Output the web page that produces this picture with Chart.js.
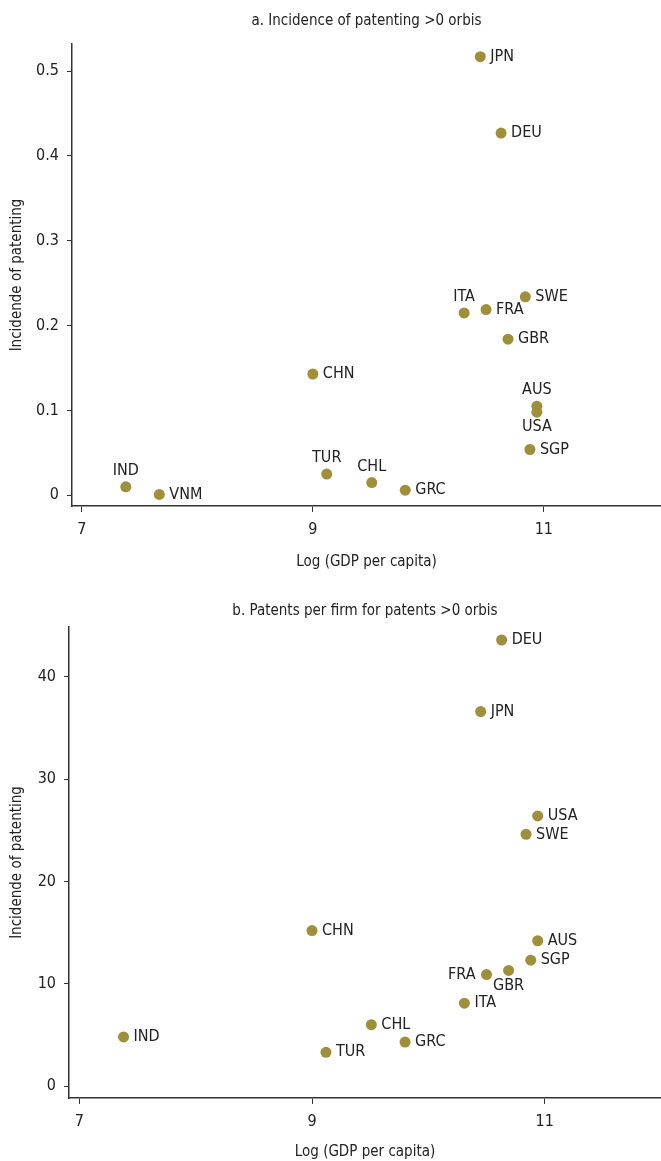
<!DOCTYPE html>
<html>
<head>
<meta charset="utf-8">
<script src="https://cdn.jsdelivr.net/npm/chart.js@4.4.1/dist/chart.umd.min.js"></script>
<style>
  html, body { margin: 0; padding: 0; background: #fff; overflow: hidden; }
  .panel { position: relative; width: 661px; }
  #panelA { height: 580px; }
  #panelB { height: 581px; }
</style>
</head>
<body>
<div class="panel" id="panelA"><canvas id="chartA"></canvas></div>
<div class="panel" id="panelB"><canvas id="chartB"></canvas></div>
<script>
// 국가 / 데이터
const countries = ['IND', 'VNM', 'CHN', 'TUR', 'CHL', 'GRC', 'ITA', 'FRA', 'JPN', 'DEU', 'GBR', 'SWE', 'SGP', 'AUS', 'USA'];
const logGdp = [7.38, 7.67, 9.00, 9.12, 9.51, 9.80, 10.31, 10.50, 10.45, 10.63, 10.69, 10.84, 10.88, 10.94, 10.94];
const incidence = [0.010, 0.001, 0.143, 0.025, 0.015, 0.006, 0.215, 0.219, 0.517, 0.427, 0.184, 0.234, 0.054, 0.105, 0.098];
const patentsPerFirm = [4.8, null, 15.2, 3.3, 6.0, 4.3, 8.1, 10.9, 36.6, 43.6, 11.3, 24.6, 12.3, 14.2, 26.4];
const xTicks = [7, 9, 11];
const yTicksA = [0, 0.1, 0.2, 0.3, 0.4, 0.5];
const yTicksB = [0, 10, 20, 30, 40];

const FONT = "'Liberation Sans Narrow', 'DejaVu Sans Condensed', Roboto, sans-serif";
const TEXT = '#222';
const DOT = '#a08f3a';

Chart.defaults.font.family = FONT;
Chart.defaults.color = TEXT;

// 패널 제목 (플롯 영역 가운데)
const panelTitle = {
  id: 'panelTitle',
  afterDraw(chart, args, opts) {
    const { ctx, chartArea } = chart;
    ctx.save();
    ctx.font = `15px ${FONT}`;
    ctx.fillStyle = TEXT;
    ctx.textAlign = 'center';
    ctx.textBaseline = 'middle';
    ctx.fillText(opts.text, (chartArea.left + chartArea.right) / 2, opts.y);
    ctx.restore();
  }
};

// 점 옆 국가 라벨
const pointLabels = {
  id: 'pointLabels',
  afterDatasetsDraw(chart, args, opts) {
    const { ctx } = chart;
    const data = chart.data.datasets[0].data;
    ctx.save();
    ctx.font = `16px ${FONT}`;
    ctx.fillStyle = TEXT;
    ctx.textBaseline = 'middle';
    chart.getDatasetMeta(0).data.forEach((pt, i) => {
      const name = data[i].label;
      const pos = opts.positions[name] || 'right';
      if (pos === 'right') { ctx.textAlign = 'left'; ctx.fillText(name, pt.x + 10, pt.y); }
      else if (pos === 'left') { ctx.textAlign = 'right'; ctx.fillText(name, pt.x - 11, pt.y); }
      else if (pos === 'above') { ctx.textAlign = 'center'; ctx.fillText(name, pt.x, pt.y - 16); }
      else { ctx.textAlign = 'center'; ctx.fillText(name, pt.x, pt.y + 15); }
    });
    ctx.restore();
  }
};

function scatterPoints(values) {
  return countries
    .map((c, i) => ({ x: logGdp[i], y: values[i], label: c }))
    .filter(p => p.y !== null);
}

function makeChart(id, values, yTicks, cfg) {
  return new Chart(document.getElementById(id), {
    type: 'scatter',
    data: {
      datasets: [{
        data: scatterPoints(values),
        backgroundColor: DOT,
        borderWidth: 0,
        pointRadius: 5.5,
        pointHoverRadius: 5.5,
        clip: false
      }]
    },
    options: {
      responsive: true,
      maintainAspectRatio: false,
      animation: false,
      layout: { autoPadding: false, padding: { top: cfg.top, left: 0, right: 0, bottom: 0 } },
      plugins: {
        legend: { display: false },
        tooltip: { enabled: false },
        panelTitle: { text: cfg.title, y: cfg.titleY },
        pointLabels: { positions: cfg.positions }
      },
      scales: {
        x: {
          type: 'linear',
          min: cfg.xMin,
          max: cfg.xMax,
          afterBuildTicks: s => { s.ticks = xTicks.map(v => ({ value: v })); },
          afterFit: s => { s.height = cfg.xHeight; s.paddingLeft = 0; s.paddingRight = 0; },
          grid: { drawOnChartArea: false, tickLength: 6, color: '#333' },
          border: { color: '#333', width: 1.5 },
          ticks: { padding: 8, font: { size: 16 }, color: TEXT },
          title: { display: true, text: 'Log (GDP per capita)', font: { size: 15 }, padding: { bottom: cfg.xTitlePad }, color: TEXT }
        },
        y: {
          type: 'linear',
          min: cfg.yMin,
          max: cfg.yMax,
          afterBuildTicks: s => { s.ticks = yTicks.map(v => ({ value: v })); },
          afterFit: s => { s.width = cfg.yWidth; },
          grid: { drawOnChartArea: false, tickLength: 5, color: '#333' },
          border: { color: '#333', width: 1.5 },
          ticks: { padding: 8, font: { size: 16 }, color: TEXT },
          title: { display: true, text: 'Incidende of patenting', font: { size: 15 }, padding: { top: 8 }, color: TEXT }
        }
      }
    },
    plugins: [panelTitle, pointLabels]
  });
}

// a. 특허 발생률
makeChart('chartA', incidence, yTicksA, {
  title: 'a. Incidence of patenting >0 orbis',
  titleY: 21,
  top: 44,
  yWidth: 72,
  xHeight: 74,
  xTitlePad: 9,
  xMin: 6.914, xMax: 12.015,
  yMin: -0.0126, yMax: 0.532,
  positions: { ITA: 'above', AUS: 'above', USA: 'below', IND: 'above', TUR: 'above', CHL: 'above' }
});

// b. 기업당 특허 수
makeChart('chartB', patentsPerFirm, yTicksB, {
  title: 'b. Patents per firm for patents >0 orbis',
  titleY: 31.5,
  top: 47,
  yWidth: 69,
  xHeight: 63,
  xTitlePad: 0,
  xMin: 6.911, xMax: 12.0,
  yMin: -1.17, yMax: 44.87,
  positions: { FRA: 'left', GBR: 'below' }
});
</script>
</body>
</html>
